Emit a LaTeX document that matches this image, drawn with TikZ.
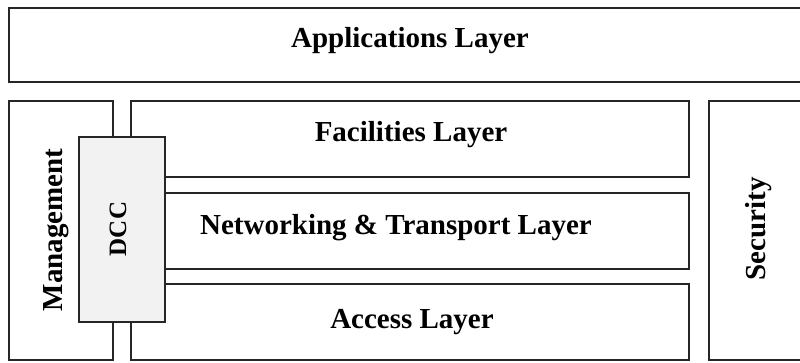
\documentclass[tikz,border=0pt]{standalone}
\usepackage{fontspec}
\setmainfont{Liberation Serif}
\begin{document}
\begin{tikzpicture}[x=1pt,y=-1pt,
  box/.style={draw=black!85, line width=1.6pt, inner sep=0pt, outer sep=0pt, anchor=north west},
  lbl/.style={font=\fontsize{29}{31}\selectfont\bfseries, inner sep=0pt, anchor=base},
  dccbox/.style={box, fill=black!5}]
  \clip (0,0) rectangle (800,363);
  % top layer
  \node[box, minimum width=806pt, minimum height=74pt] (app) at (9,8) {};
  \node[lbl] (applbl) at (410,48) {Applications Layer};
  % side blocks
  \node[box, minimum width=104pt, minimum height=259pt] (mgmt) at (9,101) {};
  \node[box, minimum width=106pt, minimum height=259pt] (sec) at (709,101) {};
  % stacked layers
  \node[box, minimum width=558pt, minimum height=76pt] (fac) at (131,101) {};
  \node[box, minimum width=558pt, minimum height=76pt] (net) at (131,193) {};
  \node[box, minimum width=558pt, minimum height=76pt] (acc) at (131,284) {};
  \node[lbl] (faclbl) at (411,142) {Facilities Layer};
  \node[lbl] (netlbl) at (396,235) {Networking \& Transport Layer};
  \node[lbl] (acclbl) at (412,328) {Access Layer};
  % DCC overlapping management and layers
  \node[dccbox, minimum width=86pt, minimum height=185pt] (dcc) at (79,137) {};
  \node[lbl, rotate=90, font=\fontsize{25}{27}\selectfont\bfseries] (dcclbl) at (126,229) {DCC};
  \node[lbl, rotate=90] (mgmtlbl) at (62,230) {Management};
  \node[lbl, rotate=90] (seclbl) at (765,229) {Security};
\end{tikzpicture}
\end{document}
